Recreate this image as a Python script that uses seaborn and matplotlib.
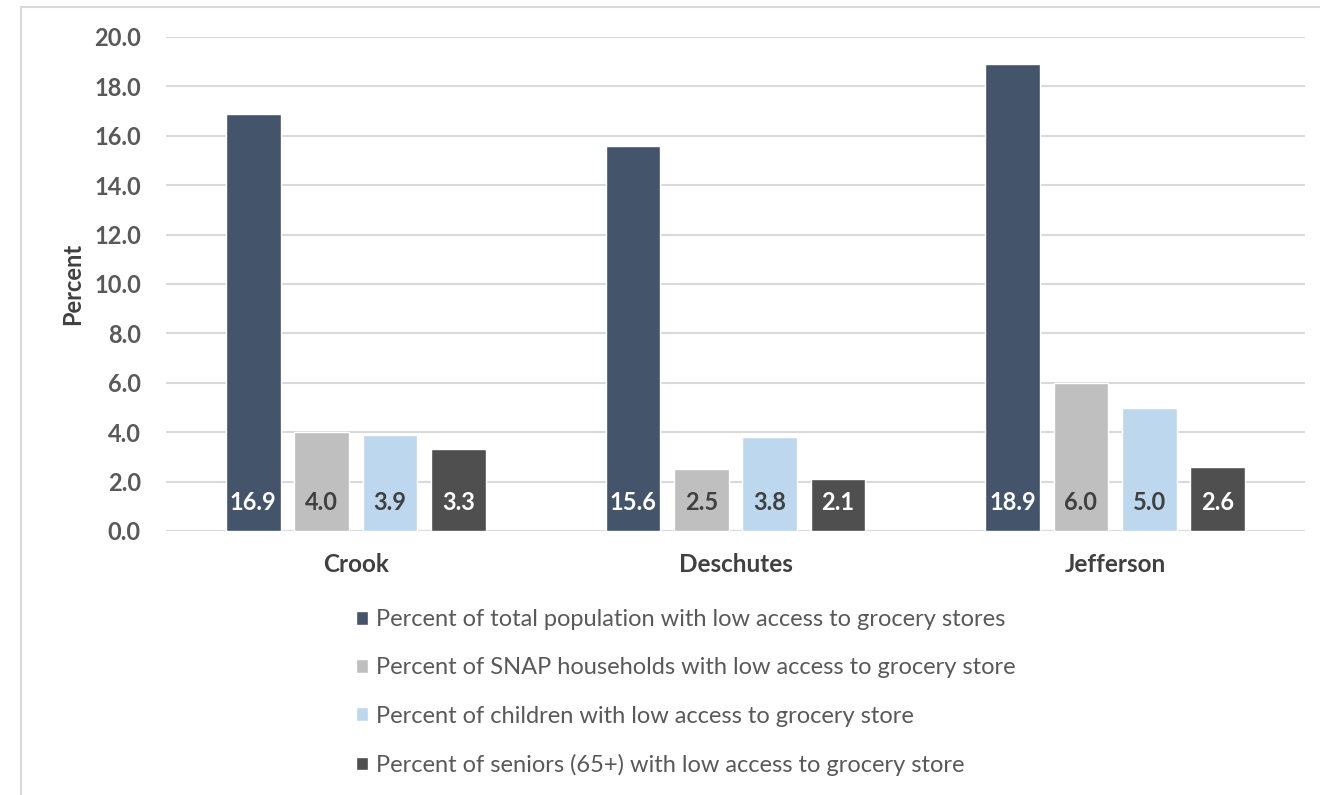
import matplotlib
matplotlib.use("Agg")
import matplotlib.pyplot as plt
from matplotlib.lines import Line2D
import seaborn as sns
import pandas as pd

counties = ["Crook", "Deschutes", "Jefferson"]
series_names = [
    "Percent of total population with low access to grocery stores",
    "Percent of SNAP households with low access to grocery store",
    "Percent of children with low access to grocery store",
    "Percent of seniors (65+) with low access to grocery store",
]
total_pop = [16.9, 15.6, 18.9]
snap = [4.0, 2.5, 6.0]
children = [3.9, 3.8, 5.0]
seniors = [3.3, 2.1, 2.6]
yticks = [0, 2, 4, 6, 8, 10, 12, 14, 16, 18, 20]

colors = ["#44546A", "#BFBFBF", "#BDD7EE", "#4F4F4F"]
label_colors = ["white", "#404040", "#404040", "white"]

rows = []
for name, vals in zip(series_names, [total_pop, snap, children, seniors]):
    for c, v in zip(counties, vals):
        rows.append({"County": c, "Series": name, "Value": v})
df = pd.DataFrame(rows)

sns.set_theme(style="white")
plt.rcParams["font.family"] = ["Lato", "DejaVu Sans"]

fig = plt.figure(figsize=(13.2, 7.95), dpi=100)
ax = fig.add_axes([166 / 1320, 1 - 531 / 795, (1305 - 166) / 1320, (531 - 37) / 795])

sns.barplot(data=df, x="County", y="Value", hue="Series", hue_order=series_names,
            order=counties, palette=colors, width=0.72, gap=0.2, ax=ax,
            saturation=1, errorbar=None, legend=True)

ax.set_ylim(0, 20)
ax.set_xlim(-0.5, 2.5)
ax.set_yticks(yticks)
ax.set_yticklabels([f"{t:.1f}" for t in yticks], fontsize=17, fontweight="bold", color="#595959")
ax.tick_params(axis="y", length=0, pad=18)
ax.tick_params(axis="x", length=0, pad=16, labelsize=17.5, labelcolor="#404040")
for lbl in ax.get_xticklabels():
    lbl.set_fontweight("bold")
ax.set_xlabel("")
ax.set_ylabel("Percent", fontsize=17, fontweight="bold", color="#404040")
ax.yaxis.set_label_coords((84 - 166) / 1139, 0.5)
ax.grid(axis="y", color="#D9D9D9", linewidth=1.5)
ax.set_axisbelow(True)
for s in ax.spines.values():
    s.set_visible(False)

# data labels inside bars
for i, container in enumerate(ax.containers):
    for bar in container:
        h = bar.get_height()
        ax.text(bar.get_x() + bar.get_width() / 2, 1.15, f"{h:.1f}",
                ha="center", va="center", fontsize=17, fontweight="bold",
                color=label_colors[i])

handles, labels = ax.get_legend_handles_labels()
ax.get_legend().remove()
leg = fig.legend(handles, labels, loc="upper left",
                 bbox_to_anchor=(335 / 1320, 1 - 588 / 795),
                 frameon=False, fontsize=17, labelcolor="#595959",
                 handlelength=0.5, handleheight=0.5, handletextpad=0.35,
                 labelspacing=1.15)

# partial outer frame
fig.add_artist(Line2D([21 / 1320, 21 / 1320], [0, 1 - 7 / 795], color="#D9D9D9", lw=1.5,
                      transform=fig.transFigure))
fig.add_artist(Line2D([21 / 1320, 1], [1 - 7 / 795, 1 - 7 / 795], color="#D9D9D9", lw=1.5,
                      transform=fig.transFigure))

fig.savefig("out.png", dpi=100)
